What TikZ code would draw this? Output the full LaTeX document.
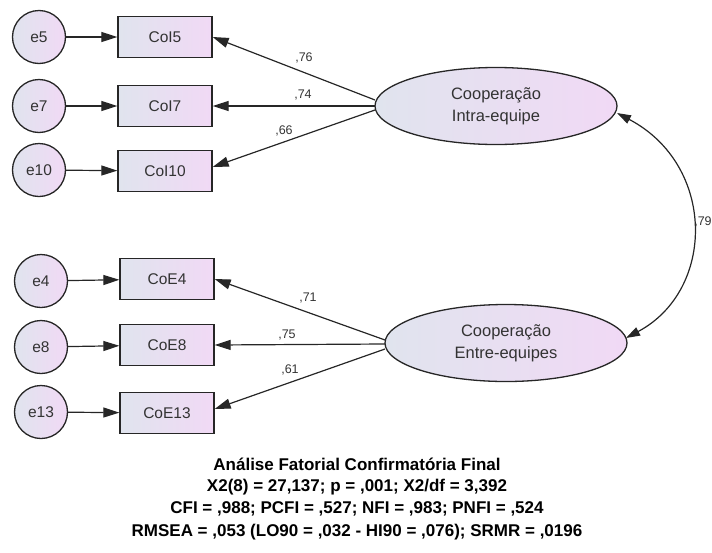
\documentclass[tikz,border=0pt]{standalone}
\usepackage{fontspec}
\setmainfont{Liberation Sans}
\usetikzlibrary{arrows.meta,shapes.geometric}
\definecolor{gl}{HTML}{E0E4EE}
\definecolor{gr}{HTML}{F1D9F5}
\definecolor{txt}{HTML}{333333}
\tikzset{
  err/.style={circle,draw=black!85,line width=1.3pt,minimum size=53pt,inner sep=0pt,
    left color=gl,right color=gr,text=txt,font=\fontsize{15.5}{17}\selectfont},
  obs/.style={rectangle,draw=black!85,line width=1.3pt,minimum width=94pt,minimum height=41pt,inner sep=0pt,
    left color=gl,right color=gr,text=txt,font=\fontsize{15.5}{17}\selectfont},
  lat/.style={ellipse,draw=black!85,line width=1.3pt,minimum width=242pt,minimum height=77pt,inner sep=0pt,
    left color=gl,right color=gr,text=txt,align=center,font=\fontsize{16.5}{22}\selectfont},
  arr/.style={draw=black!85,line width=1.2pt,-{Triangle[length=16pt,width=10pt]}},
  darr/.style={draw=black!85,line width=1.2pt,{Triangle[length=14pt,width=9pt]}-{Triangle[length=14pt,width=9pt]}},
  lbl/.style={font=\fontsize{12.5}{13}\selectfont,text=txt,inner sep=0pt},
  ttl/.style={font=\bfseries\fontsize{17}{19}\selectfont,inner sep=0pt}
}
\begin{document}
\begin{tikzpicture}[x=1pt,y=-1pt]
\useasboundingbox (0,0) rectangle (712,552);
% latent
\node[lat] (F1) at (496,106) {Cooperação\\Intra-equipe};
\node[lat] (F2) at (506,343) {Cooperação\\Entre-equipes};
% upper
\node[err] (e5) at (39,37) {e5};
\node[err] (e7) at (39,106) {e7};
\node[err] (e10) at (39,170) {e10};
\node[obs] (c5) at (165,37) {CoI5};
\node[obs] (c7) at (165,106) {CoI7};
\node[obs] (c10) at (165,171) {CoI10};
% lower
\node[err] (e4) at (41,281) {e4};
\node[err] (e8) at (41,347) {e8};
\node[err] (e13) at (41,412) {e13};
\node[obs] (d4) at (167,279) {CoE4};
\node[obs] (d8) at (167,345) {CoE8};
\node[obs] (d13) at (167,413) {CoE13};
% error arrows
\draw[arr] (e5) -- (c5);
\draw[arr] (e7) -- (c7);
\draw[arr] (e10) -- (c10);
\draw[arr] (e4) -- (d4);
\draw[arr] (e8) -- (d8);
\draw[arr] (e13) -- (d13);
% loadings
\coordinate (s1) at (375,100);
\coordinate (s2) at (375,106);
\coordinate (s3) at (375,110);
\draw[arr] (s1) -- (c5.east |- 0,37);
\draw[arr] (s2) -- (c7.east);
\draw[arr] (s3) -- (c10.east |- 0,167);
\coordinate (t1) at (385,340);
\coordinate (t2) at (385,344);
\coordinate (t3) at (385,349);
\draw[arr] (t1) -- (d4.east);
\draw[arr] (t2) -- (d8.east);
\draw[arr] (t3) -- (d13.east |- 0,409);
\node[lbl] (l76) at (304,58) {,76};
\node[lbl] (l74) at (303,95) {,74};
\node[lbl] (l66) at (284,131) {,66};
\node[lbl] (l71) at (308,298) {,71};
\node[lbl] (l75) at (287,335) {,75};
\node[lbl] (l61) at (290,370) {,61};
% correlation
\coordinate (p1) at (617,113);
\coordinate (p2) at (626,338);
\draw[darr] (p1) .. controls (716,165) and (716,290) .. (p2);
\node[lbl] (l79) at (703,222) {,79};
% title
\node[ttl] (T1) at (357,464) {Análise Fatorial Confirmatória Final};
\node[ttl] (T2) at (357,487) {X2(8) = 27,137; p = ,001; X2/df = 3,392};
\node[ttl] (T3) at (357,509) {CFI = ,988; PCFI = ,527; NFI = ,983; PNFI = ,524};
\node[ttl] (T4) at (357,532) {RMSEA = ,053 (LO90 = ,032 - HI90 = ,076); SRMR = ,0196};
\end{tikzpicture}
\end{document}
